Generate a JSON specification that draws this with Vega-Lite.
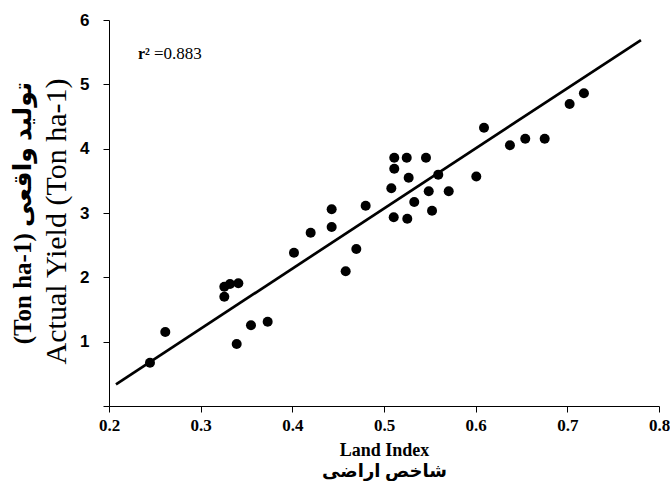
{
  "$schema": "https://vega.github.io/schema/vega-lite/v6.json",
  "width": 550,
  "height": 386,
  "autosize": {"type": "none"},
  "padding": {"left": 109, "top": 20, "right": 11, "bottom": 75},
  "background": "white",
  "config": {
    "view": {"stroke": null},
    "axis": {"grid": false, "domainColor": "black", "tickColor": "black", "labelColor": "black", "titleColor": "black", "domainWidth": 1, "tickWidth": 1, "tickSize": 6}
  },
  "title": {
    "text": "(Ton ha-1) تولید واقعی",
    "orient": "left",
    "anchor": "middle",
    "frame": "group",
    "font": "Liberation Serif, DejaVu Sans",
    "fontSize": 25,
    "fontWeight": "bold",
    "color": "black",
    "offset": 11,
    "dy": 6
  },
  "datasets": {
    "points": [
      {"land_index": 0.2447, "actual_yield": 0.673},
      {"land_index": 0.2614, "actual_yield": 1.150},
      {"land_index": 0.3258, "actual_yield": 1.855},
      {"land_index": 0.3320, "actual_yield": 1.897},
      {"land_index": 0.3411, "actual_yield": 1.907},
      {"land_index": 0.3258, "actual_yield": 1.699},
      {"land_index": 0.3393, "actual_yield": 0.964},
      {"land_index": 0.3549, "actual_yield": 1.254},
      {"land_index": 0.3731, "actual_yield": 1.310},
      {"land_index": 0.4018, "actual_yield": 2.383},
      {"land_index": 0.4200, "actual_yield": 2.694},
      {"land_index": 0.4429, "actual_yield": 3.058},
      {"land_index": 0.4429, "actual_yield": 2.783},
      {"land_index": 0.4582, "actual_yield": 2.094},
      {"land_index": 0.4698, "actual_yield": 2.441},
      {"land_index": 0.4800, "actual_yield": 3.114},
      {"land_index": 0.5080, "actual_yield": 3.384},
      {"land_index": 0.5112, "actual_yield": 3.860},
      {"land_index": 0.5248, "actual_yield": 3.860},
      {"land_index": 0.5458, "actual_yield": 3.860},
      {"land_index": 0.5112, "actual_yield": 3.689},
      {"land_index": 0.5269, "actual_yield": 3.549},
      {"land_index": 0.5592, "actual_yield": 3.596},
      {"land_index": 0.5488, "actual_yield": 3.338},
      {"land_index": 0.5706, "actual_yield": 3.338},
      {"land_index": 0.5330, "actual_yield": 3.171},
      {"land_index": 0.5524, "actual_yield": 3.036},
      {"land_index": 0.5106, "actual_yield": 2.933},
      {"land_index": 0.5254, "actual_yield": 2.912},
      {"land_index": 0.6007, "actual_yield": 3.568},
      {"land_index": 0.6091, "actual_yield": 4.326},
      {"land_index": 0.6374, "actual_yield": 4.053},
      {"land_index": 0.6541, "actual_yield": 4.155},
      {"land_index": 0.6753, "actual_yield": 4.155},
      {"land_index": 0.7025, "actual_yield": 4.695},
      {"land_index": 0.7181, "actual_yield": 4.861}
    ],
    "fit": [
      {"land_index": 0.2076, "actual_yield": 0.337},
      {"land_index": 0.7803, "actual_yield": 5.689}
    ],
    "note": [
      {"land_index": 0.2316, "actual_yield": 5.39, "part1": "r²", "part2": "=0.883"}
    ]
  },
  "layer": [
    {
      "data": {"name": "fit"},
      "mark": {"type": "line", "color": "black", "strokeWidth": 2.7},
      "encoding": {
        "x": {
          "field": "land_index", "type": "quantitative",
          "scale": {"domain": [0.2, 0.8], "nice": false, "zero": false},
          "axis": {
            "values": [0.2, 0.3, 0.4, 0.5, 0.6, 0.7, 0.8],
            "format": ".1f",
            "labelFont": "Liberation Serif",
            "labelFontSize": 17,
            "labelFontWeight": "bold",
            "labelPadding": 5,
            "labelFlush": false,
            "title": ["Land Index", "شاخص اراضی"],
            "titleFont": "Liberation Serif, DejaVu Sans",
            "titleFontSize": 18,
            "titleFontWeight": "bold",
            "titlePadding": 8,
            "titleLineHeight": 21
          }
        },
        "y": {
          "field": "actual_yield", "type": "quantitative",
          "scale": {"domain": [0, 6], "nice": false},
          "axis": {
            "values": [0, 1, 2, 3, 4, 5, 6],
            "format": "d",
            "labelExpr": "datum.value == 0 ? '' : datum.label",
            "labelFont": "Liberation Sans",
            "labelFontSize": 17,
            "labelFontWeight": "bold",
            "labelPadding": 14,
            "title": "Actual Yield (Ton ha-1)",
            "titleFont": "Liberation Serif",
            "titleFontSize": 30,
            "titleFontWeight": "normal",
            "titleAngle": -90,
            "titleAlign": "center",
            "titleBaseline": "middle",
            "titleX": -53,
            "titleY": 201
          }
        }
      }
    },
    {
      "data": {"name": "points"},
      "mark": {"type": "circle", "color": "black", "opacity": 1, "size": 100},
      "encoding": {
        "x": {"field": "land_index", "type": "quantitative"},
        "y": {"field": "actual_yield", "type": "quantitative"}
      }
    },
    {
      "data": {"name": "note"},
      "mark": {"type": "text", "align": "left", "baseline": "alphabetic", "font": "Liberation Serif", "fontSize": 16, "fontWeight": "bold", "color": "black"},
      "encoding": {
        "x": {"field": "land_index", "type": "quantitative"},
        "y": {"field": "actual_yield", "type": "quantitative"},
        "text": {"field": "part1"}
      }
    },
    {
      "data": {"name": "note"},
      "mark": {"type": "text", "align": "left", "baseline": "alphabetic", "dx": 16, "font": "Liberation Serif", "fontSize": 17, "fontWeight": "normal", "color": "black"},
      "encoding": {
        "x": {"field": "land_index", "type": "quantitative"},
        "y": {"field": "actual_yield", "type": "quantitative"},
        "text": {"field": "part2"}
      }
    }
  ]
}
